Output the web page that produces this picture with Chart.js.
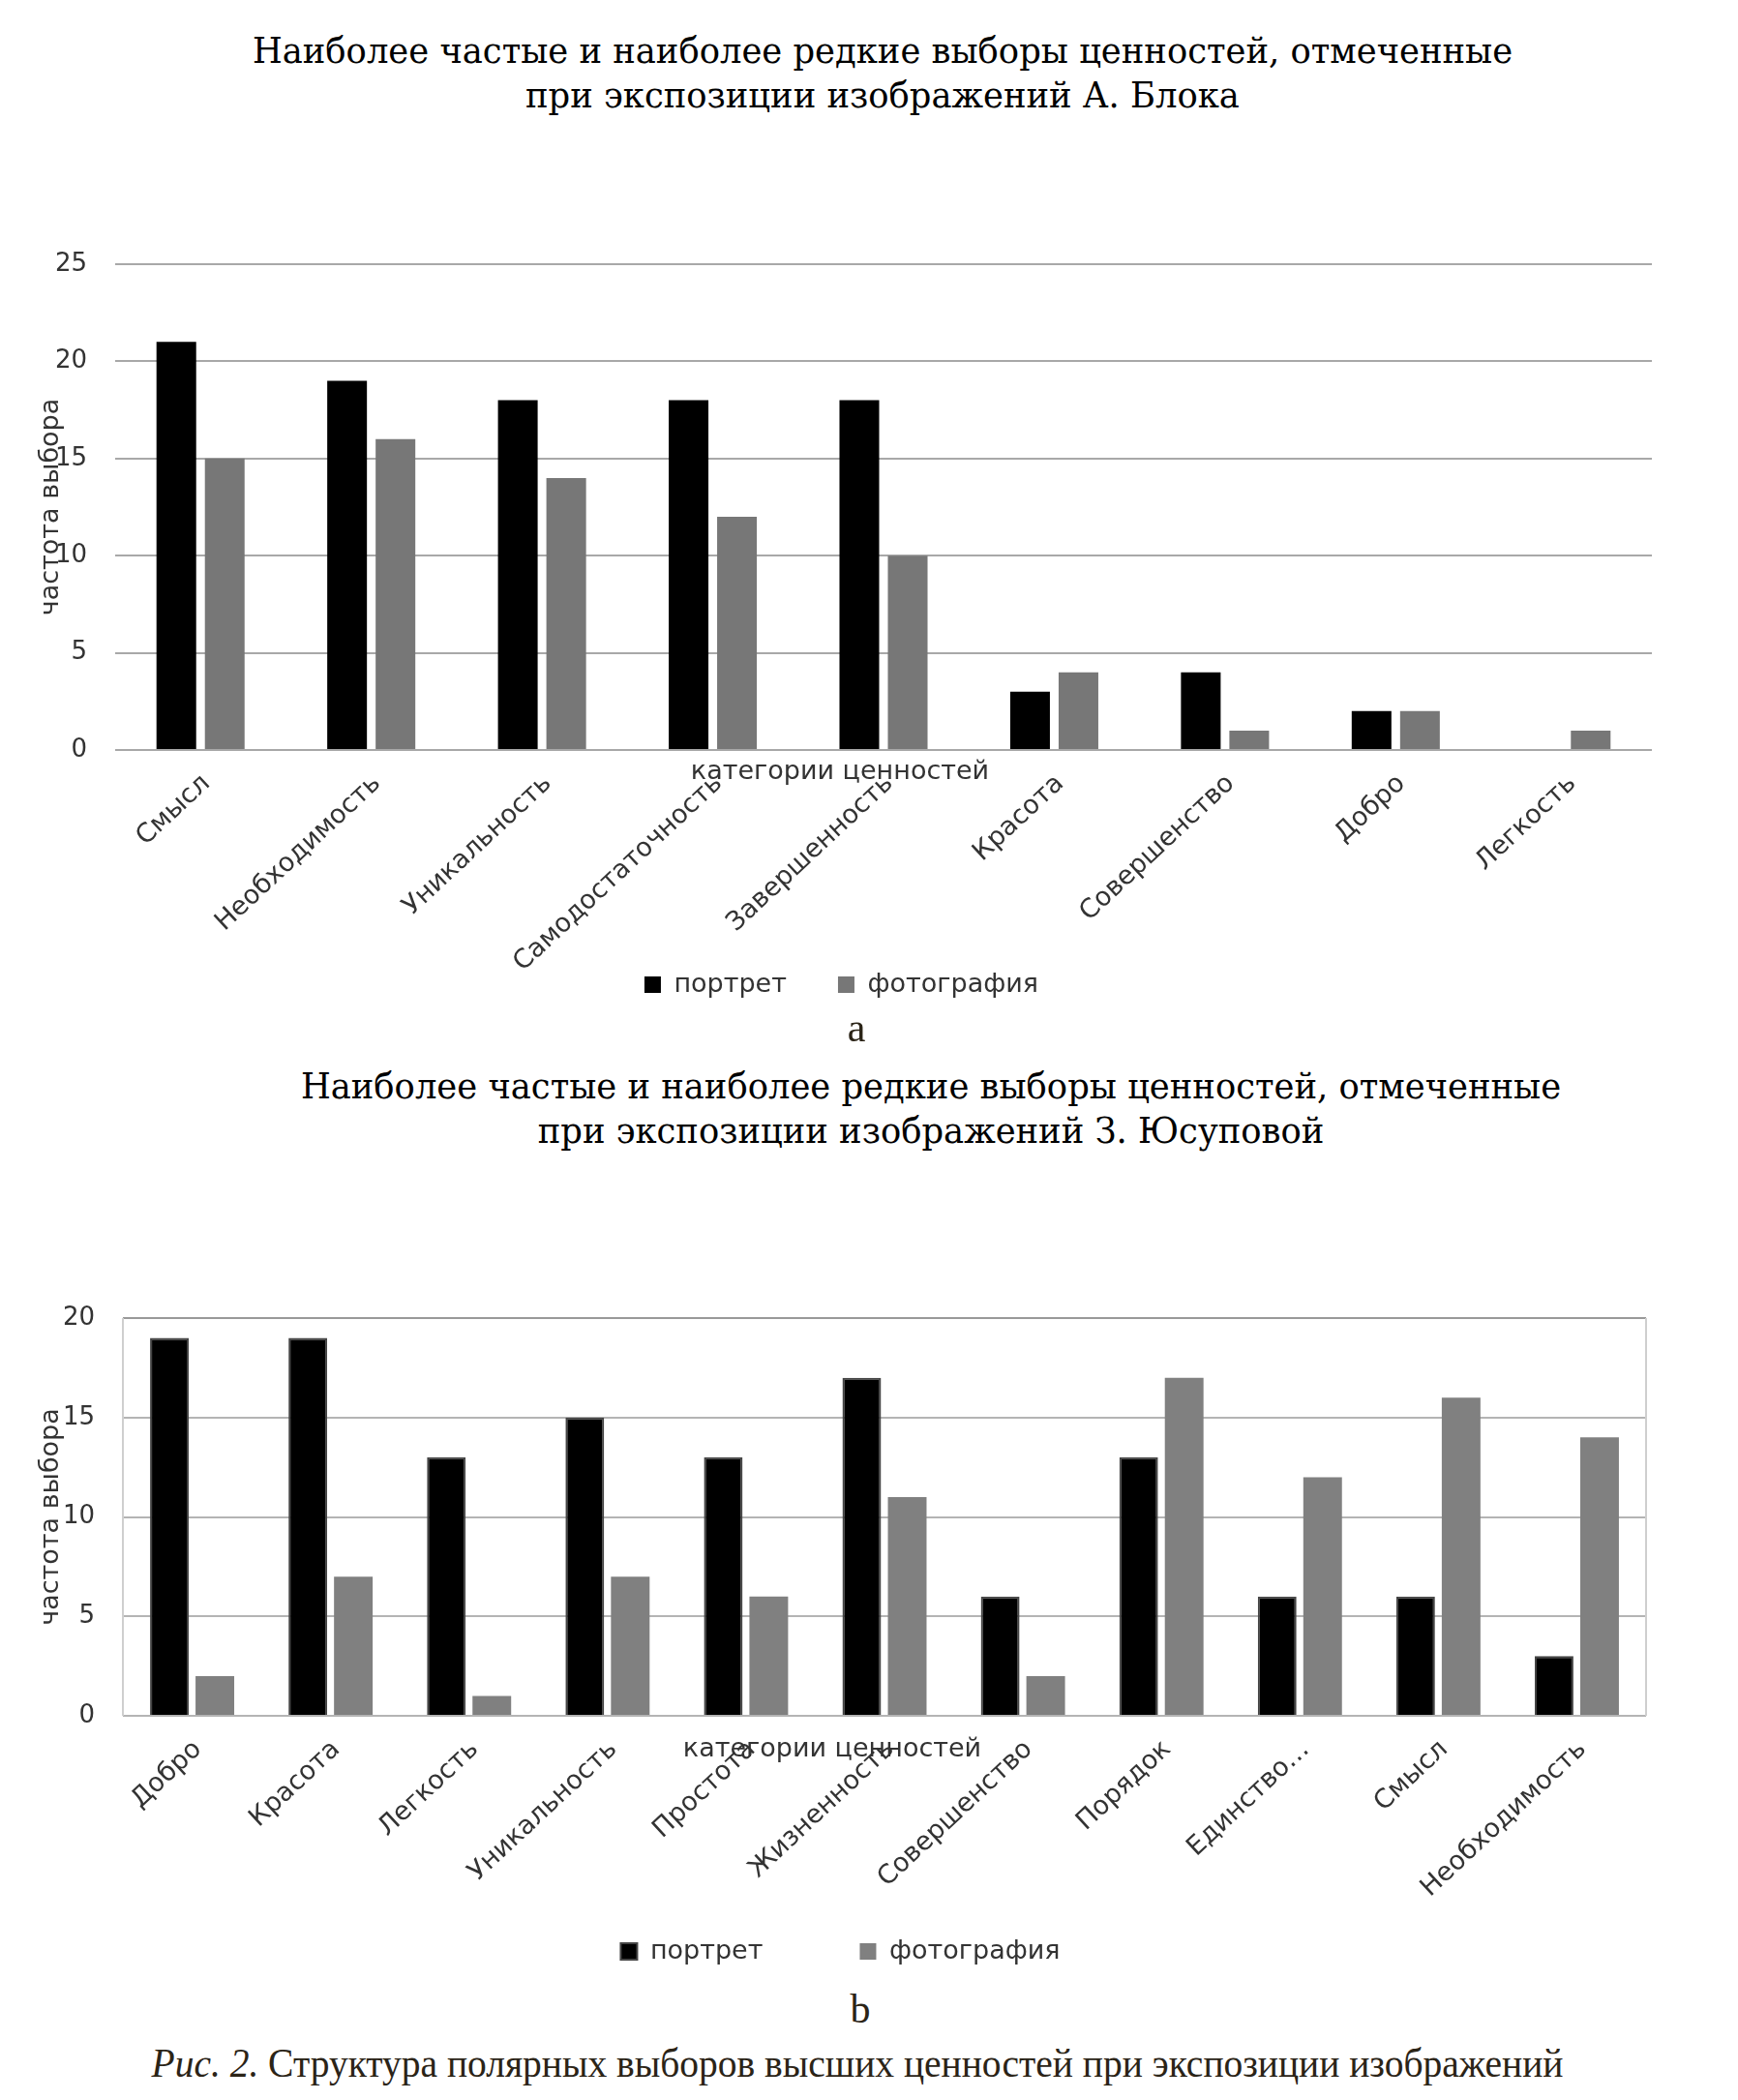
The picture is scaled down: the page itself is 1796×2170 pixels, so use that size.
<!DOCTYPE html>
<html lang="ru">
<head>
<meta charset="utf-8">
<title>Структура полярных выборов высших ценностей</title>
<script src="https://cdn.jsdelivr.net/npm/chart.js@4.4.1/dist/chart.umd.min.js"></script>
<style>
  html, body { margin: 0; padding: 0; background: #fff; }
  #page { position: relative; width: 1796px; height: 2170px; overflow: hidden; }
  canvas { position: absolute; left: 0; }
  #chartA { top: 0; }
  #chartB { top: 1200px; }
  .title {
    position: absolute; transform: translateX(-50%) scaleX(0.93);
    font-family: "DejaVu Serif", serif; font-size: 38px; line-height: 46px;
    color: #000; text-align: center; white-space: nowrap;
  }
  .note {
    position: absolute; transform: translate(-50%, -50%);
    font-family: "Liberation Serif", serif; font-size: 42px;
    color: #2b2417; white-space: nowrap;
  }
  .caption { transform: translate(-50%, -50%) scaleX(0.94); }
</style>
</head>
<body>
<div id="page">
  <div class="title" style="left:912px; top:29px;">Наиболее частые и наиболее редкие выборы ценностей, отмеченные<br>при экспозиции изображений А. Блока</div>
  <canvas id="chartA" width="1796" height="1041"></canvas>
  <div class="note" style="left:885px; top:1062px;">a</div>

  <div class="title" style="left:962px; top:1099px;">Наиболее частые и наиболее редкие выборы ценностей, отмеченные<br>при экспозиции изображений З. Юсуповой</div>
  <canvas id="chartB" width="1796" height="840"></canvas>
  <div class="note" style="left:889px; top:2076px;">b</div>

  <div class="note caption" style="left:886px; top:2132px;"><i>Рис. 2.</i> Структура полярных выборов высших ценностей при экспозиции изображений</div>
</div>

<script>
// --- DATA ---
const seriesNames = ["портрет", "фотография"];

const blokCategories = ["Смысл", "Необходимость", "Уникальность", "Самодостаточность", "Завершенность",
                        "Красота", "Совершенство", "Добро", "Легкость"];
const blokPortrait = [21, 19, 18, 18, 18, 3, 4, 2, 0];
const blokPhoto    = [15, 16, 14, 12, 10, 4, 1, 2, 1];
const blokYMax = 25;

const yusCategories = ["Добро", "Красота", "Легкость", "Уникальность", "Простота", "Жизненность",
                       "Совершенство", "Порядок", "Единство…", "Смысл", "Необходимость"];
const yusPortrait = [19, 19, 13, 15, 13, 17, 6, 13, 6, 6, 3];
const yusPhoto    = [2, 7, 1, 7, 6, 11, 2, 17, 12, 16, 14];
const yusYMax = 20;

const yStep = 5;
const axisXTitle = "категории ценностей";
const axisYTitle = "частота выбора";

const SANS = "'DejaVu Sans', sans-serif";
const INK = "#333";

// --- PLUGINS ---
// axis titles sit inside the label area, like the Excel original
const axisTitles = {
    id: "axisTitles",
    afterDraw(chart, args, o) {
        const { ctx, chartArea: a } = chart;
        ctx.save();
        ctx.font = o.font;
        ctx.fillStyle = o.color;
        ctx.textAlign = "center";
        ctx.textBaseline = "middle";
        ctx.fillText(o.x, (a.left + a.right) / 2 + o.xShift, a.bottom + o.xDrop);
        ctx.translate(o.yX, (a.top + a.bottom) / 2);
        ctx.rotate(-Math.PI / 2);
        ctx.fillText(o.y, 0, 0);
        ctx.restore();
    }
};

const plotFrame = {
    id: "plotFrame",
    beforeDatasetsDraw(chart, args, o) {
        if (!o.color) return;
        const { ctx, chartArea: a } = chart;
        ctx.save();
        ctx.strokeStyle = o.color;
        ctx.lineWidth = o.width;
        ctx.beginPath();
        ctx.moveTo(a.left, a.top); ctx.lineTo(a.left, a.bottom);
        ctx.moveTo(a.right, a.top); ctx.lineTo(a.right, a.bottom);
        ctx.stroke();
        ctx.restore();
    }
};

// --- CHART BUILDER ---
function makeChart(id, cfg) {
    return new Chart(document.getElementById(id), {
        type: "bar",
        data: {
            labels: cfg.labels,
            datasets: [
                { label: seriesNames[0], data: cfg.portrait, backgroundColor: "#000",
                  borderColor: cfg.portraitEdge || "#000", borderWidth: cfg.portraitEdge ? 2 : 0,
                  categoryPercentage: cfg.catPct, barPercentage: cfg.barPct },
                { label: seriesNames[1], data: cfg.photo, backgroundColor: cfg.photoColor,
                  borderWidth: 0, categoryPercentage: cfg.catPct, barPercentage: cfg.barPct }
            ]
        },
        options: {
            responsive: false,
            animation: false,
            layout: { padding: cfg.padding },
            scales: {
                x: {
                    grid: { display: false },
                    border: { display: false },
                    ticks: { color: INK, font: { family: SANS, size: 27 }, minRotation: 43, maxRotation: 43,
                             autoSkip: false, padding: 11, labelOffset: 6 },
                    afterFit: s => {
                        s.height = cfg.xHeight;
                        // long rotated names run past the short axis box, don't cut them off
                        s._computeLabelArea = () => undefined;
                    }
                },
                y: {
                    min: 0, max: cfg.yMax,
                    grid: { color: cfg.gridColor, lineWidth: 2, drawTicks: false },
                    border: { display: false },
                    ticks: { stepSize: yStep, color: INK, font: { family: SANS, size: 26 }, padding: 29 },
                    afterFit: s => { s.width = cfg.yWidth; }
                }
            },
            plugins: {
                legend: {
                    position: "bottom",
                    labels: { boxWidth: 17, boxHeight: 17, padding: cfg.legendGap, color: INK,
                              font: { family: SANS, size: 27 } }
                },
                tooltip: { enabled: false },
                axisTitles: { font: "27px " + SANS, color: INK, x: axisXTitle, y: axisYTitle,
                              xShift: cfg.xShift, xDrop: cfg.xDrop, yX: 53 },
                plotFrame: cfg.frame || {}
            }
        },
        plugins: [axisTitles, plotFrame]
    });
}

makeChart("chartA", {
    labels: blokCategories, portrait: blokPortrait, photo: blokPhoto, yMax: blokYMax,
    photoColor: "#777", gridColor: "#a8a8a8",
    catPct: 0.567, barPct: 0.82,
    padding: { top: 273, left: 32, right: 89, bottom: 0 },
    yWidth: 87, xHeight: 176, legendGap: 53,
    xShift: -45, xDrop: 23
});

makeChart("chartB", {
    labels: yusCategories, portrait: yusPortrait, photo: yusPhoto, yMax: yusYMax,
    photoColor: "#808080", portraitEdge: "#444",
    gridColor: ctx => ctx.tick && ctx.tick.value === yusYMax ? "#999" : "#b4b4b4",
    catPct: 0.657, barPct: 0.85,
    padding: { top: 162, left: 36, right: 95, bottom: 0 },
    yWidth: 91, xHeight: 130, legendGap: 100,
    xShift: -54, xDrop: 35,
    frame: { color: "#cfcfcf", width: 2 }
});
</script>
</body>
</html>
